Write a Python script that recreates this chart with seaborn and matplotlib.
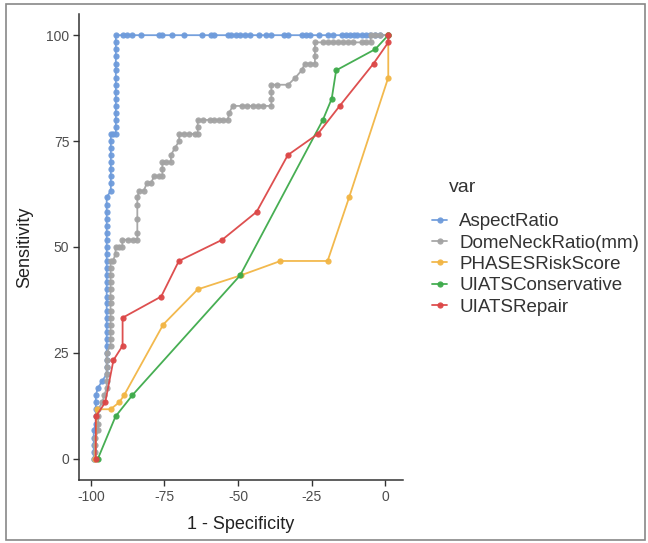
import matplotlib
matplotlib.use("Agg")
import matplotlib.pyplot as plt
import seaborn as sns
import pandas as pd
from matplotlib.patches import Rectangle

# ---------------- data ----------------
series_names = ["AspectRatio", "DomeNeckRatio(mm)", "PHASESRiskScore",
                "UIATSConservative", "UIATSRepair"]
series_colors = ["#6E9BDB", "#A3A3A3", "#F2B544", "#3DAA4A", "#DC4646"]

aspect_x = [-99, -99, -99, -99, -99, -98.3, -98.3, -98.3, -98.3, -98.3, -97.6, -96.2,
            -94.6, -94.6, -94.6, -94.6, -94.6, -94.6, -94.6, -94.6, -94.6, -94.6,
            -94.6, -94.6, -94.6, -94.6, -94.6, -94.6, -94.6, -94.6, -94.6, -94.6,
            -94.6, -94.6, -94.6, -94.6, -94.6, -94.6,
            -93.2, -93.2, -93.2, -93.2, -93.2, -93.2, -93.2, -93.2, -93.2,
            -92.3,
            -91.5, -91.5, -91.5, -91.5, -91.5, -91.5, -91.5, -91.5, -91.5, -91.5,
            -91.5, -91.5, -91.5, -91.5, -91.5,
            -89.0, -87.6, -86.1, -83.0, -77.0, -75.7, -72.5, -68.3, -62.2, -59.1,
            -58.0, -53.5, -52.3, -50.6, -49.5, -47.8, -46.1, -42.9, -40.4, -38.9,
            -34.4, -33.0, -28.4, -27.1, -25.6, -22.4, -19.4, -17.8, -14.8, -13.3,
            -11.9, -10.8, -9.5, -8.0, -6.5, -5.1, -3.4, -1.7, 1]
aspect_y = [0, 1.7, 3.3, 5, 6.7, 8.3, 10, 11.7, 13.3, 15, 16.7, 18.3,
            20, 21.7, 23.3, 25, 26.7, 28.3, 30, 31.7, 33.3, 35,
            36.7, 38.3, 40, 41.7, 43.3, 45, 46.7, 48.3, 50, 51.7,
            53.3, 55, 56.7, 58.3, 60, 61.7,
            63.3, 65, 66.7, 68.3, 70, 71.7, 73.3, 75, 76.7,
            76.7,
            76.7, 78.3, 80, 81.7, 83.3, 85, 86.7, 88.3, 90, 91.7,
            93.3, 95, 96.7, 98.3, 100,
            100, 100, 100, 100, 100, 100, 100, 100, 100, 100,
            100, 100, 100, 100, 100, 100, 100, 100, 100, 100,
            100, 100, 100, 100, 100, 100, 100, 100, 100, 100,
            100, 100, 100, 100, 100, 100, 100, 100, 100]

dome_x = [-99, -98.4, -98.4, -98.4, -97.5, -97.5, -97.5, -97.5, -96.1, -95.4,
          -94.6, -94.6, -94.6, -94.6, -94.6, -94.6, -93.3, -93.3, -93.3, -93.3,
          -93.3, -93.3, -93.3, -93.3, -93.3, -93.3, -93.3, -93.3, -93.3, -92.5,
          -91.6, -91.6, -90.5, -89.3, -89.3, -87.5, -85.8, -84.2, -84.2, -84.2,
          -84.2, -84.2, -83.5, -82.0, -81.0, -79.6, -78.5, -77.0, -75.7, -75.7,
          -75.7, -74.3, -72.8, -72.8, -71.5, -70.0, -70.0, -68.3, -66.5, -64.5,
          -63.7, -63.7, -63.7, -62.0, -59.5, -58.0, -56.5, -55.0, -53.5, -53.0,
          -51.8, -48.5, -46.8, -45.0, -43.3, -41.5, -38.7, -38.7, -38.7, -38.7,
          -36.7, -33.0, -30.5, -28.4, -27.3, -25.5, -23.9, -23.9, -23.9, -23.9,
          -21.0, -19.3, -17.6, -16.0, -14.3, -12.6, -11.0, -8.0, -6.5, -5.0,
          -5.0, -3.4, -1.7, 1]
dome_y = [0, 1.7, 3.3, 5, 6.7, 8.3, 10, 11.7, 13.3, 15,
          16.7, 18.3, 20, 21.7, 23.3, 25, 26.7, 28.3, 30, 31.7,
          33.3, 35, 36.7, 38.3, 40, 41.7, 43.3, 45, 46.7, 46.7,
          48.3, 50, 50, 50, 51.7, 51.7, 51.7, 51.7, 53.3, 56.7,
          60, 61.7, 63.3, 63.3, 65, 65, 66.7, 66.7, 66.7, 68.3,
          70, 70, 70, 71.7, 73.3, 75, 76.7, 76.7, 76.7, 76.7,
          76.7, 78.3, 80, 80, 80, 80, 80, 80, 80, 81.7,
          83.3, 83.3, 83.3, 83.3, 83.3, 83.3, 83.3, 85, 86.7, 88.3,
          88.3, 88.3, 90, 91.7, 93.3, 93.3, 93.3, 95, 96.7, 98.3,
          98.3, 98.3, 98.3, 98.3, 98.3, 98.3, 98.3, 98.3, 98.3, 98.3,
          100, 100, 100, 100]

phases_x = [-98.5, -98.0, -93.3, -90.4, -88.7, -75.4, -63.7, -49.1, -35.6, -19.6,
            -12.3, 1, 1]
phases_y = [0, 11.7, 11.7, 13.3, 15, 31.7, 40, 43.3, 46.7, 46.7,
            61.7, 90, 100]

cons_x = [-97.6, -91.6, -85.9, -49.3, -21.2, -18.2, -16.7, -3.4, 1]
cons_y = [0, 10, 15, 43.3, 80, 85, 91.7, 96.7, 100]

repair_x = [-98.3, -98.3, -95.1, -92.3, -89.2, -89.2, -76.1, -70.1, -55.4, -43.7,
            -33.1, -22.9, -15.5, -4.0, 1, 1]
repair_y = [0, 10, 13.3, 23.3, 26.7, 33.3, 38.3, 46.7, 51.7, 58.3,
            71.7, 76.7, 83.3, 93.3, 98.3, 100]

x_ticks = [-100, -75, -50, -25, 0]
y_ticks = [0, 25, 50, 75, 100]

# ---------------- build long table ----------------
all_x = [aspect_x, dome_x, phases_x, cons_x, repair_x]
all_y = [aspect_y, dome_y, phases_y, cons_y, repair_y]
frames = []
for name, xs, ys in zip(series_names, all_x, all_y):
    frames.append(pd.DataFrame({"fpr": xs, "tpr": ys, "var": name}))
df = pd.concat(frames, ignore_index=True)

# ---------------- plot ----------------
sns.set_style("white")
plt.rcParams["font.family"] = ["Liberation Sans", "DejaVu Sans"]

fig = plt.figure(figsize=(6.48, 5.43), dpi=100)
ax = fig.add_axes([79 / 648, 1 - 480 / 543, (403 - 79) / 648, (480 - 14) / 543])

sns.lineplot(data=df, x="fpr", y="tpr", hue="var", hue_order=series_names,
             palette=series_colors, sort=False, estimator=None, units="var",
             marker="o", markersize=4.5, markeredgewidth=0, linewidth=1.3,
             alpha=0.95, ax=ax)

ax.set_xlim(-104, 6)
ax.set_ylim(-5, 105)
ax.set_xticks(x_ticks)
ax.set_yticks(y_ticks)
ax.set_xticklabels([str(t) for t in x_ticks])
ax.set_yticklabels([str(t) for t in y_ticks])
ax.tick_params(axis="both", which="both", length=4, width=1, color="#333333",
               labelsize=10, labelcolor="#4D4D4D", pad=3,
               bottom=True, left=True)
for side in ["top", "right"]:
    ax.spines[side].set_visible(False)
for side in ["left", "bottom"]:
    ax.spines[side].set_color("#333333")
    ax.spines[side].set_linewidth(1.1)

ax.set_xlabel("1 - Specificity", fontsize=13, color="#222222", labelpad=9)
ax.set_ylabel("Sensitivity", fontsize=13, color="#222222", labelpad=9)

handles, labels = ax.get_legend_handles_labels()
ax.get_legend().remove()
leg = fig.legend(handles, labels, loc="upper left",
                 bbox_to_anchor=(432 / 648, 1 - 213 / 543),
                 frameon=False, fontsize=13.5,
                 handlelength=0.8, handletextpad=0.65, labelspacing=0.23,
                 borderpad=0, borderaxespad=0)
for t in leg.get_texts():
    t.set_color("#333333")
fig.text(463 / 648, 1 - 188 / 543, "var", fontsize=14, color="#333333",
         ha="center", va="center")

fig.patches.append(Rectangle((6 / 648, 3 / 543), 639 / 648, 536 / 543,
                             transform=fig.transFigure, fill=False,
                             edgecolor="#888888", linewidth=1.2))

fig.savefig("out.png", dpi=100)
